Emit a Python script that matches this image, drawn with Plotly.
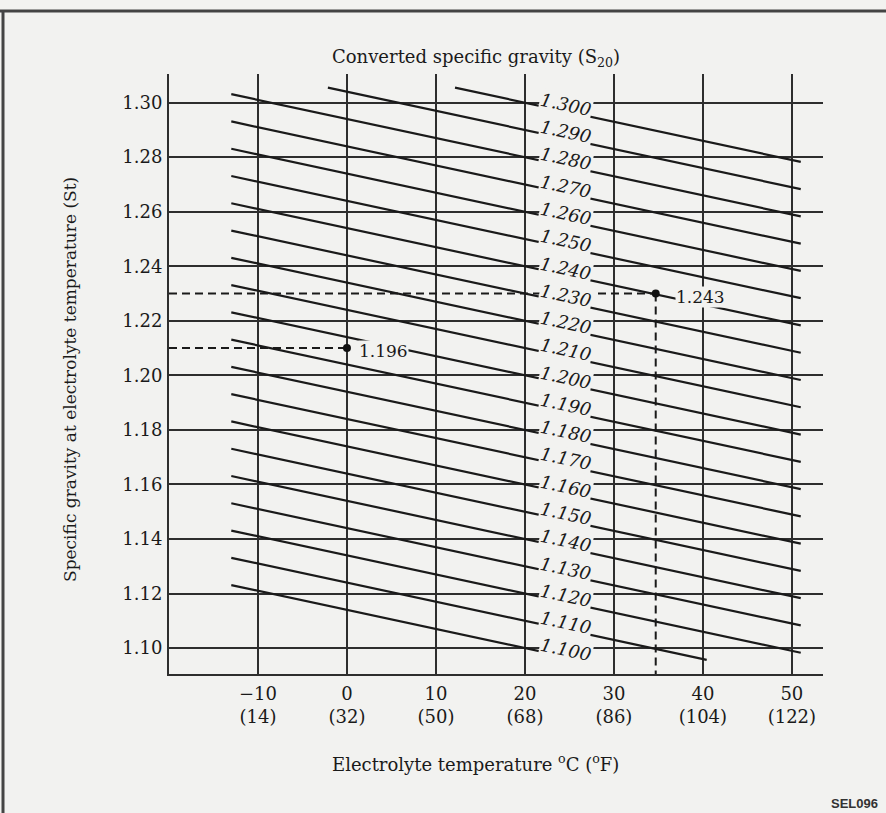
import plotly.graph_objects as go

# ---------------- data ----------------
s20_lines = [1.100, 1.110, 1.120, 1.130, 1.140, 1.150, 1.160, 1.170, 1.180, 1.190,
             1.200, 1.210, 1.220, 1.230, 1.240, 1.250, 1.260, 1.270, 1.280, 1.290, 1.300]
s20_labels = ["1.100", "1.110", "1.120", "1.130", "1.140", "1.150", "1.160", "1.170",
              "1.180", "1.190", "1.200", "1.210", "1.220", "1.230", "1.240", "1.250",
              "1.260", "1.270", "1.280", "1.290", "1.300"]
temp_c = [-10, 0, 10, 20, 30, 40, 50]
temp_f = [14, 32, 50, 68, 86, 104, 122]
sg_ticks = [1.10, 1.12, 1.14, 1.16, 1.18, 1.20, 1.22, 1.24, 1.26, 1.28, 1.30]
sg_tick_labels = ["1.10", "1.12", "1.14", "1.16", "1.18", "1.20", "1.22", "1.24", "1.26", "1.28", "1.30"]

ref_temp = 20.0          # S20 reference temperature
coef = 0.0007            # correction per degree C
line_t_min = -13.0       # where the iso-lines start on the left
line_t_max = 51.0        # where the iso-lines end on the right
line_st_min = 1.0957     # lower clip of the iso-lines
line_st_max = 1.3055     # upper clip of the iso-lines
label_temp = 24.6        # temperature at which the iso-line labels sit

example_temp = [0.0, 34.7]
example_st = [1.21, 1.23]
example_result = ["1.196", "1.243"]

x_range = [-20, 53.5]
y_range = [1.0905, 1.3105]

# ---------------- layout constants ----------------
W, H = 886, 813
ML, MR, MT, MB = 169, 63, 74, 139
PW, PH = W - ML - MR, H - MT - MB
BG = "#f2f2f0"
INK = "#1a1a1a"
GRID = "#2e2e2e"
FONT = "DejaVu Serif"


def px_x(px):
    return (px - ML) / PW


def px_y(py):
    return 1 - (py - MT) / PH


fig = go.Figure()

# iso-lines of converted specific gravity
xs, ys = [], []
for c in s20_lines:
    t0 = max(line_t_min, ref_temp - (line_st_max - c) / coef)
    t1 = min(line_t_max, ref_temp + (c - line_st_min) / coef)
    xs += [t0, t1, None]
    ys += [c - coef * (t0 - ref_temp), c - coef * (t1 - ref_temp), None]
fig.add_trace(go.Scatter(x=xs, y=ys, mode="lines",
                         line=dict(color=INK, width=2.2), hoverinfo="skip", showlegend=False))

# dashed reading examples
for t, st in zip(example_temp, example_st):
    fig.add_trace(go.Scatter(x=[x_range[0], t], y=[st, st], mode="lines",
                             line=dict(color=INK, width=2, dash="8px,5px"),
                             hoverinfo="skip", showlegend=False))
fig.add_trace(go.Scatter(x=[example_temp[1], example_temp[1]], y=[example_st[1], y_range[0]],
                         mode="lines", line=dict(color=INK, width=2, dash="8px,5px"),
                         hoverinfo="skip", showlegend=False))
fig.add_trace(go.Scatter(x=example_temp, y=example_st, mode="markers",
                         marker=dict(color="#111", size=8), hoverinfo="skip", showlegend=False))

annotations = []
# iso-line labels
for c, lab in zip(s20_lines, s20_labels):
    annotations.append(dict(
        x=label_temp, y=c - coef * (label_temp - ref_temp), xref="x", yref="y",
        text=lab, showarrow=False, textangle=12, yshift=7,
        xanchor="center", yanchor="middle",
        font=dict(family=FONT, size=18, color=INK, style="italic"),
        bgcolor=BG, borderpad=0))

# example result labels
for t, st, lab, sh in zip(example_temp, example_st, example_result, [11, 19]):
    annotations.append(dict(
        x=t, y=st, xref="x", yref="y", text=lab, showarrow=False,
        xanchor="left", yanchor="middle", xshift=sh, yshift=-3,
        font=dict(family=FONT, size=17, color=INK), bgcolor=BG, borderpad=0))

# titles
annotations.append(dict(x=px_x(476), y=px_y(58), xref="paper", yref="paper",
                        xanchor="center", yanchor="middle",
                        text="Converted specific gravity (S<sub>20</sub>)", showarrow=False,
                        font=dict(family=FONT, size=18, color=INK)))
annotations.append(dict(x=px_x(475), y=px_y(763), xref="paper", yref="paper",
                        xanchor="center", yanchor="middle",
                        text="Electrolyte temperature <sup>o</sup>C (<sup>o</sup>F)", showarrow=False,
                        font=dict(family=FONT, size=18, color=INK)))
annotations.append(dict(x=px_x(70), y=px_y(380), xref="paper", yref="paper",
                        xanchor="center", yanchor="middle",
                        text="Specific gravity at electrolyte temperature (St)", showarrow=False,
                        textangle=-90, font=dict(family=FONT, size=17, color=INK)))
annotations.append(dict(x=px_x(880), y=px_y(804), xref="paper", yref="paper",
                        xanchor="right", yanchor="middle", text="<b>SEL096</b>", showarrow=False,
                        font=dict(family="Liberation Sans", size=13, color="#333")))

# page frame of the scan
shapes = [
    dict(type="line", xref="paper", yref="paper", x0=px_x(0), x1=px_x(886),
         y0=px_y(11), y1=px_y(11), line=dict(color="#444", width=3)),
    dict(type="line", xref="paper", yref="paper", x0=px_x(3), x1=px_x(3),
         y0=px_y(11), y1=px_y(813), line=dict(color="#444", width=3)),
]

fig.update_layout(
    width=W, height=H,
    margin=dict(l=ML, r=MR, t=MT, b=MB),
    paper_bgcolor=BG, plot_bgcolor=BG,
    annotations=annotations, shapes=shapes,
    font=dict(family=FONT, size=18, color=INK),
    xaxis=dict(range=x_range, tickvals=temp_c,
               ticktext=[f"{'−' if c < 0 else ''}{abs(c)}<br>({f})" for c, f in zip(temp_c, temp_f)],
               showgrid=True, gridcolor=GRID, gridwidth=1.5, zeroline=False,
               showline=True, linecolor=GRID, linewidth=2, ticks="",
               ticklabelstandoff=2, tickfont=dict(family=FONT, size=18, color=INK)),
    yaxis=dict(range=y_range, tickvals=sg_ticks, ticktext=sg_tick_labels,
               showgrid=True, gridcolor=GRID, gridwidth=1.5, zeroline=False,
               showline=True, linecolor=GRID, linewidth=2, ticks="",
               ticklabelstandoff=1, tickfont=dict(family=FONT, size=18, color=INK)),
)

fig.write_html("out.html",
               config={"displayModeBar": False},
               post_script="document.body.style.margin='0';document.body.style.overflow='hidden';")
